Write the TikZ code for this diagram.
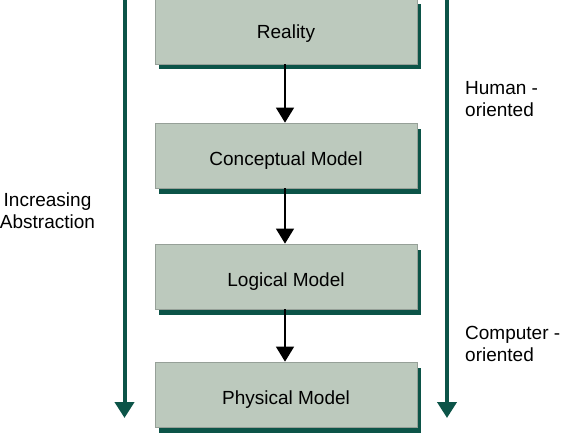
\documentclass[tikz,border=0pt]{standalone}
\usepackage{fontspec}
\setmainfont{Liberation Sans}
\usetikzlibrary{arrows.meta,shadows}
\definecolor{dkgreen}{RGB}{12,84,72}
\definecolor{boxfill}{RGB}{188,201,189}
\definecolor{boxedge}{RGB}{150,160,152}
\begin{document}
\begin{tikzpicture}[x=1pt,y=-1pt,
  layerbox/.style={draw=boxedge, line width=0.7pt, fill=boxfill,
    minimum width=262pt, minimum height=65pt, inner sep=0pt,
    font=\fontsize{19}{22}\selectfont, text height=20.6pt, text depth=0pt,
    drop shadow={shadow xshift=4pt, shadow yshift=-5.5pt, fill=dkgreen, opacity=1}},
  flowarrow/.style={draw=black, line width=1.3pt, -{Triangle[width=18pt,length=15pt]}},
  sidearrow/.style={draw=dkgreen, line width=4pt, -{Triangle[width=19pt,length=16pt]}},
  sidelabel/.style={font=\fontsize{19}{22}\selectfont, inner sep=0pt}]
\useasboundingbox (0,0) rectangle (564,433);
% side arrows
\coordinate (ltop) at (124.5,-5);
\coordinate (lbot) at (124.5,418);
\coordinate (rtop) at (447,-5);
\coordinate (rbot) at (447,418);
\draw[sidearrow] (ltop) -- (lbot);
\draw[sidearrow] (rtop) -- (rbot);
% boxes
\node[layerbox, text height=13.6pt] (reality) at (286,31.5) {Reality};
\node[layerbox] (concept) at (286,155.5) {Conceptual Model};
\node[layerbox] (logical) at (286,276.5) {Logical Model};
\node[layerbox] (physical) at (286,394.5) {Physical Model};
% flow arrows
\draw[flowarrow] ([xshift=-1pt]reality.south) -- ([xshift=-1pt]concept.north);
\draw[flowarrow] ([xshift=-1pt]concept.south) -- ([xshift=-1pt]logical.north);
\draw[flowarrow] ([xshift=-1pt]logical.south) -- ([xshift=-1pt]physical.north);
% labels
\node[sidelabel, align=center] (abstr) at (47.5,211) {Increasing\\Abstraction};
\node[sidelabel, align=left, anchor=west] (human) at (465,99.5) {Human -\\oriented};
\node[sidelabel, align=left, anchor=west] (computer) at (465,343.5) {Computer -\\oriented};
\end{tikzpicture}
\end{document}
